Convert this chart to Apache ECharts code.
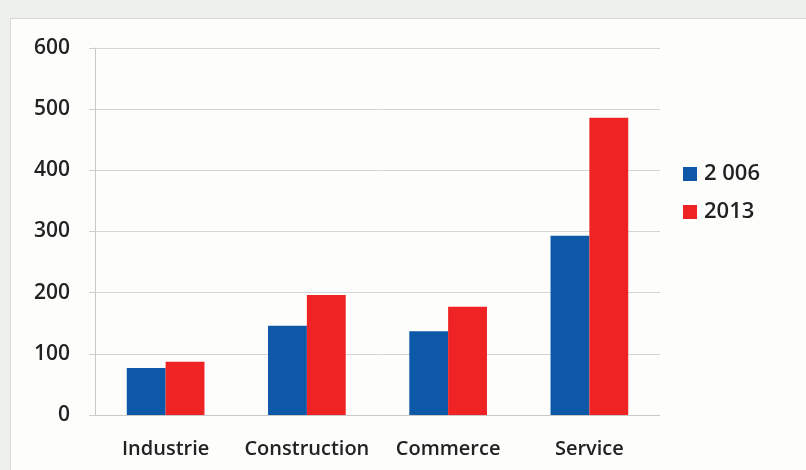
<!DOCTYPE html>
<html>
<head>
<meta charset="utf-8">
<script src="https://cdn.jsdelivr.net/npm/echarts@6/dist/echarts.min.js"></script>
<style>
    html, body { margin: 0; padding: 0; background: #eef0ec; }
    .chart_frame { position: absolute; left: 10px; top: 18px; width: 796px; height: 452px; background: #fdfdfc; border-left: 1px solid #d6d8d4; border-top: 1px solid #d6d8d4; }
    #chart_main { position: absolute; left: 0; top: 0; width: 806px; height: 470px; }
</style>
</head>
<body>
<div class="chart_frame"></div>
<div id="chart_main"></div>
<script>
var categories = ['Industrie', 'Construction', 'Commerce', 'Service'];
var values2006 = [77, 146, 137, 293];
var values2013 = [87, 196, 177, 486];
var seriesNames = ['2 006', '2013'];
var yTicks = { min: 0, max: 600, interval: 100 };

var chart_main = echarts.init(document.getElementById('chart_main'));

var option = {
    animation: false,
    textStyle: { fontFamily: 'Open Sans' },
    grid: {
        left: 95,
        right: 146,
        top: 48,
        bottom: 55
    },
    legend: {
        data: seriesNames,
        orient: 'vertical',
        left: 678,
        top: 158,
        itemWidth: 14,
        itemHeight: 14,
        itemGap: 16,
        icon: 'rect',
        textStyle: { color: '#222', fontSize: 22, fontWeight: 600, padding: [0, 0, 0, 2] }
    },
    xAxis: [{
        type: 'category',
        data: categories,
        axisLine: { lineStyle: { color: '#c8c8c8' } },
        axisTick: { show: false },
        axisLabel: { interval: 0, color: '#222', fontSize: 20, fontWeight: 600, margin: 24 }
    }],
    yAxis: [{
        type: 'value',
        min: yTicks.min,
        max: yTicks.max,
        interval: yTicks.interval,
        axisLine: { show: true, lineStyle: { color: '#c8c8c8' } },
        axisTick: { show: true, length: 6, lineStyle: { color: '#d0d0d0' } },
        splitLine: { lineStyle: { color: '#d4d4d4' } },
        axisLabel: { color: '#222', fontSize: 21, fontWeight: 600, margin: 25 }
    }],
    series: [{
        name: seriesNames[0],
        type: 'bar',
        barGap: '0%',
        barCategoryGap: '45%',
        itemStyle: { color: '#0e58a8' },
        data: values2006
    }, {
        name: seriesNames[1],
        type: 'bar',
        itemStyle: { color: '#ef2323' },
        data: values2013
    }]
};
chart_main.setOption(option);
</script>
</body>
</html>
